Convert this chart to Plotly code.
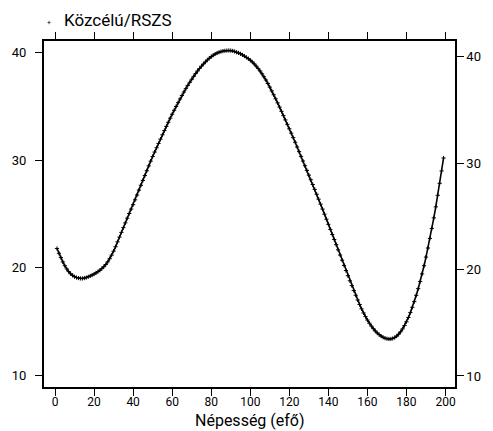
import plotly.graph_objects as go

series_name = "Közcélú/RSZS"
x_title = "Népesség (efő)"

x_values = list(range(1, 200))
y_values = [
    21.8, 21.35, 20.95, 20.55, 20.2, 19.9, 19.65, 19.45, 19.3, 19.18,
    19.1, 19.05, 19.02, 19.02, 19.05, 19.1, 19.17, 19.25, 19.33, 19.42,
    19.53, 19.65, 19.78, 19.93, 20.1, 20.31, 20.56, 20.85, 21.18, 21.55,
    21.96, 22.41, 22.85, 23.29, 23.73, 24.17, 24.61, 25.04, 25.45, 25.86,
    26.31, 26.76, 27.21, 27.66, 28.11, 28.56, 29.01, 29.46, 29.9, 30.33,
    30.74, 31.14, 31.54, 31.94, 32.34, 32.73, 33.12, 33.5, 33.88, 34.25,
    34.61, 34.97, 35.32, 35.66, 35.99, 36.31, 36.62, 36.92, 37.21, 37.49,
    37.76, 38.02, 38.26, 38.49, 38.71, 38.91, 39.1, 39.28, 39.44, 39.59,
    39.72, 39.83, 39.92, 40.0, 40.06, 40.1, 40.13, 40.15, 40.16, 40.15,
    40.12, 40.07, 40.0, 39.93, 39.85, 39.75, 39.64, 39.52, 39.4, 39.26,
    39.1, 38.92, 38.72, 38.5, 38.26, 38.0, 37.72, 37.42, 37.1, 36.76,
    36.41, 36.05, 35.68, 35.3, 34.91, 34.52, 34.12, 33.72, 33.31, 32.9,
    32.49, 32.08, 31.65, 31.21, 30.78, 30.34, 29.91, 29.47, 29.04, 28.6,
    28.17, 27.73, 27.28, 26.83, 26.37, 25.91, 25.45, 24.98, 24.51, 24.04,
    23.57, 23.1, 22.63, 22.15, 21.67, 21.19, 20.71, 20.23, 19.75, 19.27,
    18.8, 18.35, 17.9, 17.46, 17.02, 16.6, 16.2, 15.82, 15.48, 15.16,
    14.87, 14.6, 14.36, 14.15, 13.96, 13.8, 13.67, 13.56, 13.48, 13.43,
    13.4, 13.41, 13.45, 13.54, 13.67, 13.85, 14.07, 14.34, 14.65, 15.0,
    15.4, 15.85, 16.34, 16.87, 17.45, 18.07, 18.73, 19.44, 20.2, 21.0,
    21.84, 22.73, 23.66, 24.64, 25.66, 26.73, 27.84, 28.99, 30.19,
]

x_ticks = [0, 20, 40, 60, 80, 100, 120, 140, 160, 180, 200]
y_ticks = [10, 20, 30, 40]

FONT = "Roboto, Liberation Sans, sans-serif"

fig = go.Figure()
fig.add_trace(go.Scatter(
    x=x_values, y=y_values, mode="lines+markers", name=series_name,
    line=dict(color="black", width=1.6),
    marker=dict(symbol="cross-thin", size=3, line=dict(color="black", width=1)),
    showlegend=False,
))
fig.add_trace(go.Scatter(
    x=[x_values[0]], y=[y_values[0]], yaxis="y2", mode="markers",
    marker=dict(opacity=0), showlegend=False, hoverinfo="skip",
))

fig.update_layout(
    width=493, height=431,
    margin=dict(l=42, r=30, t=41, b=44),
    paper_bgcolor="white", plot_bgcolor="white",
    font=dict(family=FONT, color="black", size=12),
    xaxis=dict(
        range=[-5.65, 204.85], tickvals=x_ticks, ticks="outside", ticklen=7,
        tickwidth=1, tickcolor="black", showline=True, linecolor="black",
        linewidth=1.5, mirror="ticks", showgrid=False, zeroline=False,
        tickfont=dict(size=12), ticklabelstandoff=-4,
    ),
    yaxis=dict(
        range=[8.95, 41.04], tickvals=y_ticks, ticks="outside", ticklen=7,
        tickwidth=1, tickcolor="black", showline=True, linecolor="black",
        linewidth=2, showgrid=False, zeroline=False, tickfont=dict(size=13),
        ticklabelstandoff=6,
    ),
    yaxis2=dict(
        range=[8.96, 41.49], tickvals=y_ticks, ticks="outside", ticklen=7,
        tickwidth=1, tickcolor="black", showline=True, linecolor="black",
        linewidth=1.5, overlaying="y", side="right", showgrid=False,
        zeroline=False, tickfont=dict(size=13),
    ),
    annotations=[
        dict(text=series_name, xref="paper", yref="paper",
             x=(60 - 42) / 421, y=(387 - 20) / 346, xanchor="left",
             yanchor="middle", showarrow=False, font=dict(size=17)),
        dict(text="+", xref="paper", yref="paper",
             x=(47 - 42) / 421, y=(387 - 23) / 346, xanchor="center",
             yanchor="middle", showarrow=False, font=dict(size=7)),
        dict(text=x_title, xref="paper", yref="paper",
             x=0.5, y=(387 - 432) / 346, xanchor="center",
             yanchor="bottom", showarrow=False, font=dict(size=16)),
    ],
)

fig.write_html("out.html", config={"displayModeBar": False})

with open("out.html", "r", encoding="utf-8") as f:
    html = f.read()
html = html.replace("<head>", "<head><style>html,body{margin:0;padding:0;overflow:hidden;}</style>", 1)
with open("out.html", "w", encoding="utf-8") as f:
    f.write(html)
